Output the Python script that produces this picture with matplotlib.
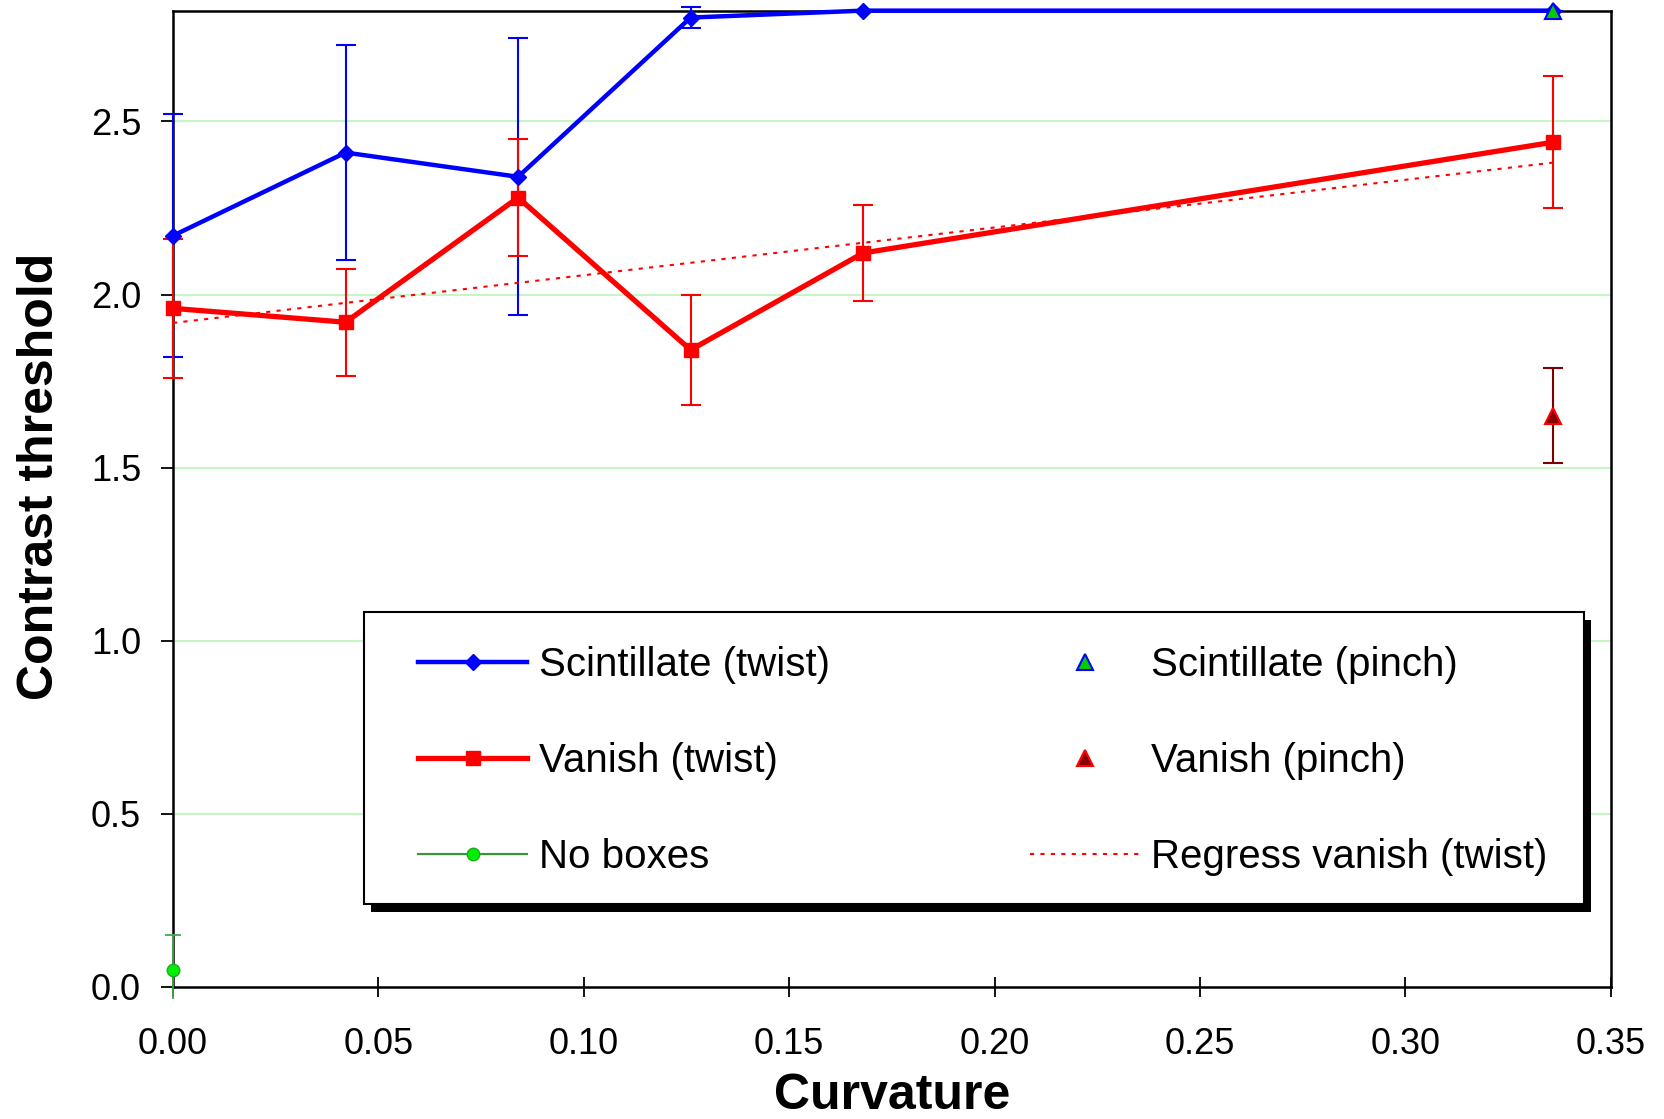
import matplotlib
matplotlib.use("Agg")
import matplotlib.pyplot as plt
from matplotlib.patches import Rectangle
import numpy as np

plt.rcParams['font.family'] = ['Liberation Sans', 'DejaVu Sans']

# ---- data ----
curv = [0.0, 0.042, 0.084, 0.126, 0.168, 0.336]
scint_twist = [2.17, 2.41, 2.34, 2.80, 2.82, 2.82]
scint_twist_err = [0.35, 0.31, 0.40, 0.03, 0.0, 0.0]
vanish_twist = [1.96, 1.92, 2.28, 1.84, 2.12, 2.44]
vanish_twist_err = [0.20, 0.155, 0.17, 0.16, 0.14, 0.19]
nobox_x = [0.0]
nobox_y = [0.05]
nobox_err_lo = [0.085]
nobox_err_hi = [0.10]
pinch_x = [0.336]
scint_pinch = [2.82]
vanish_pinch = [1.65]
vanish_pinch_err = [0.137]
regress_x = [0.0, 0.336]
regress_y = [1.918, 2.381]

xticks = [0.0, 0.05, 0.10, 0.15, 0.20, 0.25, 0.30, 0.35]
yticks = [0.0, 0.5, 1.0, 1.5, 2.0, 2.5]

W, H = 1664, 1119
fig = plt.figure(figsize=(W / 100, H / 100), dpi=100)
ax = fig.add_axes([0.104, 0.118, 0.864, 0.8725])

ax.set_xlim(0, 0.35)
ax.set_ylim(0, 2.82)

for y in yticks[1:]:
    ax.axhline(y, color='#c6f5c6', lw=1.5, zorder=0)

cap = 7.5
# error bars
ax.errorbar(curv, scint_twist, yerr=scint_twist_err, fmt='none', ecolor='#0000ff',
            elinewidth=1.5, capsize=cap, capthick=1.5, zorder=3, clip_on=False)
ax.errorbar(curv, vanish_twist, yerr=vanish_twist_err, fmt='none', ecolor='#ff0000',
            elinewidth=1.5, capsize=cap, capthick=1.5, zorder=3, clip_on=False)
eb = ax.errorbar(nobox_x, nobox_y, yerr=[nobox_err_lo, nobox_err_hi], fmt='none',
                 ecolor='#44aa44', elinewidth=1.3, capsize=6, capthick=1.3, zorder=3,
                 clip_on=False)
for cl in eb[1]:
    if np.all(np.asarray(cl.get_ydata()) < 0):
        cl.set_visible(False)
ax.errorbar(pinch_x, vanish_pinch, yerr=vanish_pinch_err, fmt='none', ecolor='#800000',
            elinewidth=1.5, capsize=cap, capthick=1.5, zorder=3, clip_on=False)

# lines/markers
l1, = ax.plot(curv, scint_twist, color='#0000ff', lw=3.2, marker='D', ms=8,
              mfc='#0000ff', mec='#0000ff', label='Scintillate (twist)', zorder=5, clip_on=False)
l2, = ax.plot(curv, vanish_twist, color='#ff0000', lw=3.8, marker='s', ms=10,
              mfc='#ff0000', mec='#ff0000', label='Vanish (twist)', zorder=5, clip_on=False)
l3, = ax.plot(nobox_x, nobox_y, color='#339933', lw=1.5, marker='o', ms=9,
              mfc='#00ee00', mec='#22aa22', label='No boxes', zorder=5, clip_on=False)
l4, = ax.plot(pinch_x, scint_pinch, ls='none', marker='^', ms=11, mfc='#00cc00',
              mec='#0000ff', mew=1.5, label='Scintillate (pinch)', zorder=6, clip_on=False)
l5, = ax.plot(pinch_x, vanish_pinch, ls='none', marker='^', ms=11, mfc='#880000',
              mec='#ff0000', mew=1.5, label='Vanish (pinch)', zorder=6, clip_on=False)
l6, = ax.plot(regress_x, regress_y, color='#ff0000', lw=1.5, ls=(0, (2, 3)),
              label='Regress vanish (twist)', zorder=4)

ax.set_xticks(xticks)
ax.set_xticklabels([f"{v:.2f}" for v in xticks])
ax.set_yticks(yticks)
ax.set_yticklabels([f"{v:.1f}" for v in yticks])

ax.tick_params(axis='x', direction='inout', length=14, width=1.3, pad=22, labelsize=26)
ax.tick_params(axis='y', direction='out', length=9, width=1.3, pad=14, labelsize=26)
for s in ax.spines.values():
    s.set_linewidth(1.8)
    s.set_color('black')

ax.set_xlabel('Curvature', fontsize=36, fontweight='bold', labelpad=8)
ax.set_ylabel('Contrast threshold', fontsize=36, fontweight='bold', labelpad=20)
ax.yaxis.label.set_y(0.523)

# legend box (frame + thick black shadow), in figure pixel layout
bx0, by_top, bx1, by_bot = 364, 612, 1584, 904
shadow = Rectangle(((bx0 + 7) / W, 1 - (by_bot + 8) / H), (bx1 - bx0) / W, (by_bot - by_top) / H,
                   transform=fig.transFigure, facecolor='black', edgecolor='none',
                   zorder=8, clip_on=False)
frame = Rectangle((bx0 / W, 1 - by_bot / H), (bx1 - bx0) / W, (by_bot - by_top) / H,
                  transform=fig.transFigure, facecolor='white', edgecolor='black',
                  lw=1.5, zorder=9, clip_on=False)
ax.add_patch(shadow)
ax.add_patch(frame)

leg = ax.legend(handles=[l1, l2, l3, l4, l5, l6], ncol=2, loc='upper left',
                bbox_to_anchor=((bx0 + 20) / W, 1 - by_top / H), bbox_transform=fig.transFigure,
                borderaxespad=0, fontsize=29, frameon=False,
                handlelength=2.7, handletextpad=0.3, columnspacing=4.97,
                labelspacing=1.44, borderpad=0.85, numpoints=1)
leg.set_zorder(10)

fig.savefig('out.png', dpi=100)
